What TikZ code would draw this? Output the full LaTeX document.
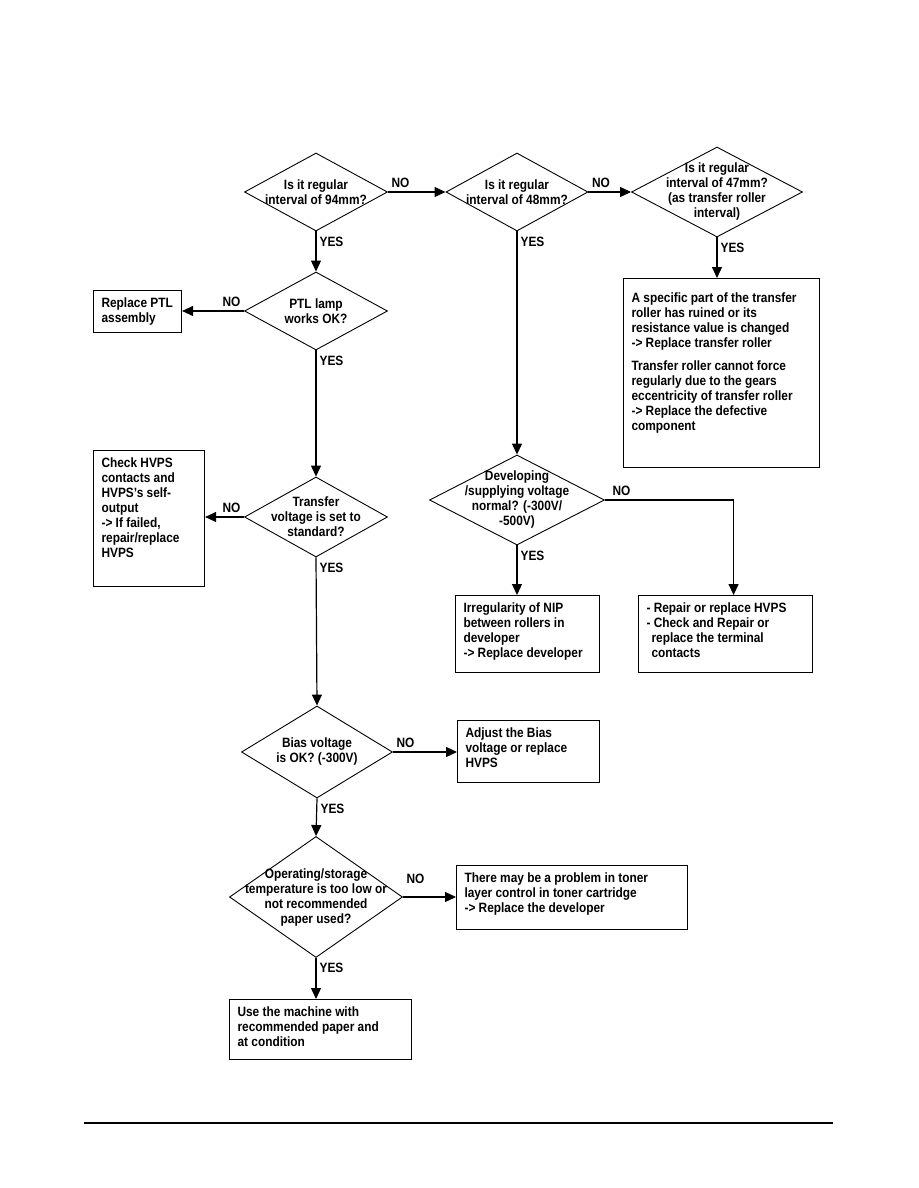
\documentclass[tikz,border=0pt]{standalone}
\usepackage{fontspec}
\setmainfont{Liberation Sans}[FakeStretch=0.88]
\usetikzlibrary{shapes.geometric,arrows.meta}

% text block of a result box: [top gap], width, height, lines
\newcommand{\boxtext}[4][0pt]{\parbox[c][#3][t]{#2}{\vspace*{#1}\makebox[#2][l]{\begin{tabular}[t]{@{}l@{}}#4\end{tabular}}}}

\begin{document}
\begin{tikzpicture}[x=1pt, y=-1pt,
  txt/.style={font=\fontsize{13.5}{15}\selectfont\bfseries},
  decision/.style={draw, diamond, inner sep=0pt, line width=0.9pt},
  dtext/.style={txt, align=center, inner sep=0pt},
  result/.style={draw, rectangle, anchor=north west, inner xsep=8pt, inner ysep=6pt,
    line width=1.1pt, txt},
  flow/.style={line width=1.2pt, -{Triangle[length=11pt,width=10pt]}},
  lbl/.style={txt, inner sep=0pt, pos=0},
  nolbl/.style={lbl, anchor=south west, xshift=3pt, yshift=4pt},
  noleft/.style={lbl, anchor=south east, xshift=-3pt, yshift=4pt},
  yeslbl/.style={lbl, anchor=north west, xshift=3pt, yshift=-5pt}]
  \useasboundingbox (0,0) rectangle (918,1188);

  % decisions
  \node[decision, minimum width=143, minimum height=78,
    label={[dtext]center:Is it regular\\interval of 94mm?}] (d1) at (316,192) {};
  \node[decision, minimum width=142, minimum height=78,
    label={[dtext]center:Is it regular\\interval of 48mm?}] (d2) at (517,192) {};
  \node[decision, minimum width=171, minimum height=90,
    label={[dtext]center:Is it regular\\interval of 47mm?\\(as transfer roller\\interval)}] (d3) at (717,192) {};
  \node[decision, minimum width=143, minimum height=78,
    label={[dtext]center:PTL lamp\\works OK?}] (d4) at (316,311) {};
  \node[decision, minimum width=143, minimum height=80,
    label={[dtext]center:Transfer\\voltage is set to\\standard?}] (d5) at (316,517) {};
  \node[decision, minimum width=175, minimum height=90,
    label={[dtext]center:Developing\\/supplying voltage\\normal? (-300V/\\-500V)}] (d6) at (517,500) {};
  \node[decision, minimum width=151, minimum height=92,
    label={[dtext]center:Bias voltage\\is OK? (-300V)}] (d7) at (317,752) {};
  \node[decision, minimum width=173, minimum height=121,
    label={[dtext]center:Operating/storage\\temperature is too low or\\not recommended\\paper used?}] (d8) at (316,897) {};

  % results
  \node[result] (ptl) at (93,290) {\boxtext{72pt}{30pt}{Replace PTL\\assembly}};
  \node[result] (check) at (93,450) {\boxtext{95pt}{124pt}{Check HVPS\\contacts and\\HVPS's self-\\output\\-> If failed,\\repair/replace\\HVPS}};
  \node[result] (roller) at (623,278) {\boxtext[7pt]{180pt}{177pt}{A specific part of the transfer\\roller has ruined or its\\resistance value is changed\\-> Replace transfer roller\\[8pt]Transfer roller cannot force\\regularly due to the gears\\eccentricity of transfer roller\\-> Replace the defective\\component}};
  \node[result] (nip) at (455,595) {\boxtext{128pt}{65pt}{Irregularity of NIP\\between rollers in\\developer\\-> Replace developer}};
  \node[result] (hvps) at (638,595) {\boxtext{158pt}{65pt}{- Repair or replace HVPS\\- Check and Repair or\\\hspace*{5pt}replace the terminal\\\hspace*{5pt}contacts}};
  \node[result] (bias) at (457,720) {\boxtext{126pt}{50pt}{Adjust the Bias\\voltage or replace\\HVPS}};
  \node[result] (toner) at (456,865) {\boxtext{215pt}{52pt}{There may be a problem in toner\\layer control in toner cartridge\\-> Replace the developer}};
  \node[result] (paper) at (229,999) {\boxtext{166pt}{48pt}{Use the machine with\\recommended paper and\\at condition}};

  % connectors
  \draw[flow] (d1.east) -- node[nolbl] (no1) {NO} (d2.west);
  \draw[flow] (d2.east) -- node[nolbl] (no2) {NO} (d3.west);
  \draw[flow] (d1.south) -- node[yeslbl] (yes1) {YES} (d4.north);
  \draw[flow] (d2.south) -- node[yeslbl] (yes2) {YES} (d6.north);
  \draw[flow] (d3.south) -- node[yeslbl] (yes3) {YES} (d3.south |- roller.north);
  \draw[flow] (d4.west) -- node[noleft] (no4) {NO} (d4.west -| ptl.east);
  \draw[flow] (d4.south) -- node[yeslbl] (yes4) {YES} (d5.north);
  \draw[flow] (d5.west) -- node[noleft] (no5) {NO} (d5.west -| check.east);
  \draw[flow] (d5.south) -- node[yeslbl] (yes5) {YES} (d7.north);
  \draw[flow] (d6.east) -| node[nolbl, xshift=4pt] (no6) {NO} ([xshift=8pt]hvps.north);
  \draw[flow] (d6.south) -- node[yeslbl] (yes6) {YES} (d6.south |- nip.north);
  \draw[flow] (d7.east) -- node[nolbl] (no7) {NO} (d7.east -| bias.west);
  \draw[flow] (d7.south) -- node[yeslbl] (yes7) {YES} (d8.north);
  \draw[flow] (d8.east) -- node[nolbl, yshift=9pt] (no8) {NO} (d8.east -| toner.west);
  \draw[flow] (d8.south) -- node[yeslbl] (yes8) {YES} (d8.south |- paper.north);

  % footer rule
  \draw[line width=1.2pt] (84,1123) -- (833,1123);
\end{tikzpicture}
\end{document}
